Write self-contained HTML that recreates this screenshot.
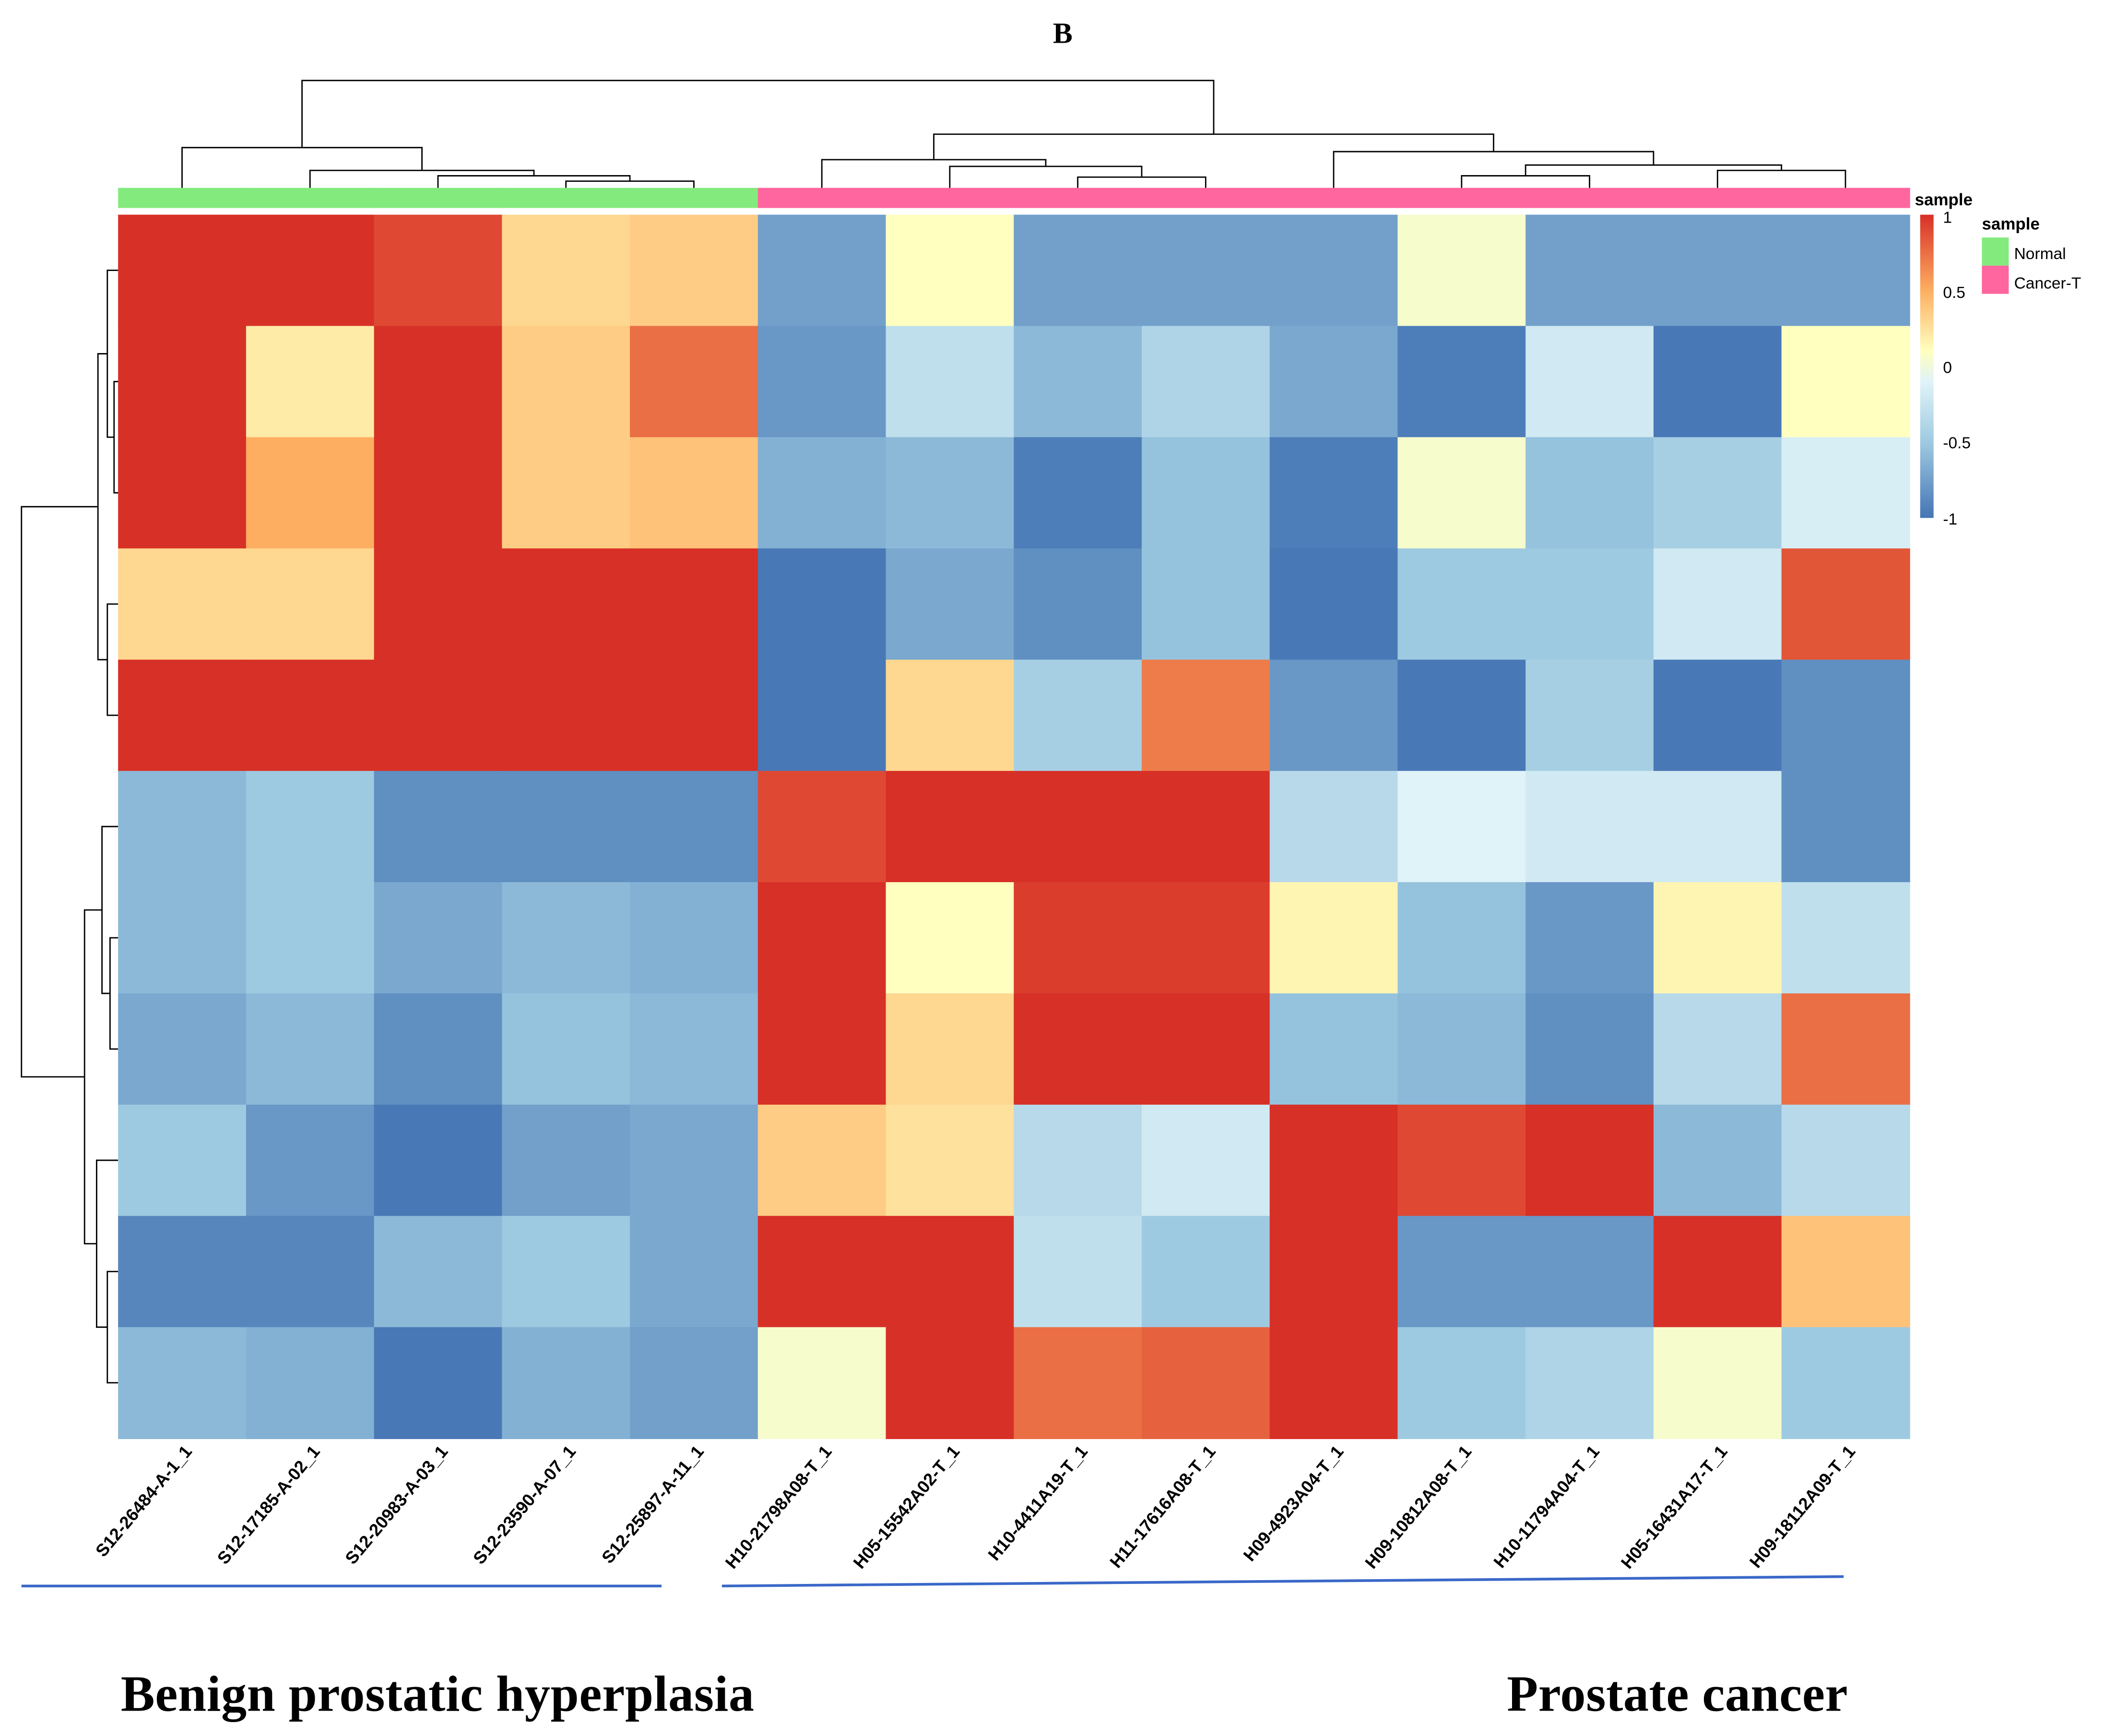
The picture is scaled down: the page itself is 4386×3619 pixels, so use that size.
<!DOCTYPE html>
<html><head><meta charset="utf-8"><style>html,body{margin:0;padding:0;background:#fff}svg{display:block}</style></head>
<body>
<svg id="chart" xmlns="http://www.w3.org/2000/svg" width="4386" height="3619" viewBox="0 0 1568 1293.8">
<defs><linearGradient id="cb" x1="0" y1="1" x2="0" y2="0">
<stop offset="0" stop-color="#4575b4"/><stop offset="0.25" stop-color="#9ecae1"/><stop offset="0.45" stop-color="#e0f3f8"/><stop offset="0.55" stop-color="#ffffbf"/><stop offset="0.75" stop-color="#fdae61"/><stop offset="1" stop-color="#d73027"/></linearGradient></defs>
<text x="792" y="32" text-anchor="middle" font-family="Liberation Serif, serif" font-weight="bold" font-size="22">B</text>
<g id="top-dend" stroke="#000" stroke-width="1" fill="none"></g>
<g id="left-dend" stroke="#000" stroke-width="1" fill="none"></g>
<g id="anno"></g>
<g id="cells"></g>
<g id="xlabels" font-family="Liberation Sans, sans-serif" font-weight="bold" font-size="13"></g>
<g font-family="Liberation Sans, sans-serif">
<text x="1427" y="153" font-size="12.5" font-weight="bold">sample</text>
<rect x="1431" y="160" width="10" height="226" fill="url(#cb)"/>
<text x="1448" y="166" font-size="12">1</text>
<text x="1448" y="222" font-size="12">0.5</text>
<text x="1448" y="278" font-size="12">0</text>
<text x="1448" y="334" font-size="12">-0.5</text>
<text x="1448" y="391" font-size="12">-1</text>
<text x="1477" y="171" font-size="12.5" font-weight="bold">sample</text>
<rect x="1477" y="177" width="20" height="21" fill="#83ea7d"/>
<text x="1501" y="193" font-size="12">Normal</text>
<rect x="1477" y="198" width="20" height="21" fill="#ff659e"/>
<text x="1501" y="215" font-size="12">Cancer-T</text>
</g>
<line x1="16" y1="1182" x2="493" y2="1182" stroke="#3a68c8" stroke-width="2"/>
<line x1="538" y1="1182" x2="1374" y2="1175" stroke="#3a68c8" stroke-width="2"/>
<text x="90" y="1275" font-family="Liberation Serif, serif" font-weight="bold" font-size="38" textLength="472">Benign prostatic hyperplasia</text>
<text x="1123" y="1275" font-family="Liberation Serif, serif" font-weight="bold" font-size="38" textLength="254">Prostate cancer</text>
</svg>
<script>
const samples = ["S12-26484-A-1_1","S12-17185-A-02_1","S12-20983-A-03_1","S12-23590-A-07_1","S12-25897-A-11_1","H10-21798A08-T_1","H05-15542A02-T_1","H10-4411A19-T_1","H11-17616A08-T_1","H09-4923A04-T_1","H09-10812A08-T_1","H10-11794A04-T_1","H05-16431A17-T_1","H09-18112A09-T_1"];
const groups = ["Normal","Normal","Normal","Normal","Normal","Cancer-T","Cancer-T","Cancer-T","Cancer-T","Cancer-T","Cancer-T","Cancer-T","Cancer-T","Cancer-T"];
const row1 = [1,1,0.9,0.3,0.35,-0.75,0.1,-0.75,-0.75,-0.75,0.05,-0.75,-0.75,-0.75];
const row2 = [1,0.2,1,0.35,0.75,-0.8,-0.3,-0.6,-0.4,-0.7,-0.95,-0.2,-0.98,0.1];
const row3 = [1,0.5,1,0.35,0.4,-0.65,-0.6,-0.95,-0.55,-0.95,0.05,-0.55,-0.45,-0.15];
const row4 = [0.3,0.3,1,1,1,-0.98,-0.7,-0.85,-0.55,-0.98,-0.5,-0.5,-0.2,0.85];
const row5 = [1,1,1,1,1,-0.98,0.3,-0.45,0.7,-0.8,-0.98,-0.45,-0.98,-0.85];
const row6 = [-0.6,-0.5,-0.85,-0.85,-0.85,0.9,1,1,1,-0.35,-0.1,-0.2,-0.2,-0.85];
const row7 = [-0.6,-0.5,-0.7,-0.6,-0.65,1,0.1,0.95,0.95,0.15,-0.55,-0.8,0.15,-0.3];
const row8 = [-0.7,-0.6,-0.85,-0.55,-0.6,1,0.3,1,1,-0.55,-0.6,-0.85,-0.35,0.75];
const row9 = [-0.5,-0.8,-0.98,-0.75,-0.7,0.35,0.25,-0.35,-0.2,1,0.9,1,-0.6,-0.35];
const row10 = [-0.9,-0.9,-0.6,-0.5,-0.7,1,1,-0.3,-0.5,1,-0.8,-0.8,1,0.4];
const row11 = [-0.6,-0.65,-0.98,-0.65,-0.75,0.05,1,0.75,0.8,1,-0.5,-0.4,0.05,-0.5];
const rows = [row1,row2,row3,row4,row5,row6,row7,row8,row9,row10,row11];
const colMerges = [[3,4,135],[2,"c0",131],[1,"c1",127],[0,"c2",110],[7,8,132],[6,"c4",124],[5,"c5",119],[10,11,131],[12,13,127],["c7","c8",123],[9,"c9",113],["c6","c10",100],["c3","c11",60]];
const rowMerges = [[1,2,85],[0,"c0",80],[3,4,80],["c1","c2",73],[6,7,82],[5,"c4",76],[9,10,80],[8,"c6",72],["c5","c7",63],["c3","c8",16]];

const NS="http://www.w3.org/2000/svg";
const X0=88,X1=1423,Y0=160,Y1=1072;
const cw=(X1-X0)/samples.length, ch=(Y1-Y0)/rows.length;
const xc=i=>X0+cw*(i+0.5), yc=j=>Y0+ch*(j+0.5);
const stops=[[-1,[69,117,180]],[-0.5,[158,202,225]],[-0.1,[224,243,248]],[0.1,[255,255,191]],[0.5,[253,174,97]],[1,[215,48,39]]];
function color(v){v=Math.max(-1,Math.min(1,v));for(let k=1;k<stops.length;k++){if(v<=stops[k][0]){const a=stops[k-1],b=stops[k],t=(v-a[0])/(b[0]-a[0]);return "rgb("+a[1].map((c,i)=>Math.round(c+(b[1][i]-c)*t)).join(",")+")";}}return "rgb(215,48,39)";}
const cells=document.getElementById('cells');
rows.forEach((r,j)=>r.forEach((v,i)=>{const e=document.createElementNS(NS,'rect');
e.setAttribute('x',X0+cw*i);e.setAttribute('y',Y0+ch*j);e.setAttribute('width',cw+0.5);e.setAttribute('height',ch+0.5);e.setAttribute('fill',color(v));


cells.appendChild(e);}));
const anno=document.getElementById('anno');
groups.forEach((g,i)=>{const e=document.createElementNS(NS,'rect');
e.setAttribute('x',X0+cw*i);e.setAttribute('y',140);e.setAttribute('width',cw+0.5);e.setAttribute('height',15);e.setAttribute('fill',g==="Normal"?"#83ea7d":"#ff659e");


anno.appendChild(e);});
const xl=document.getElementById('xlabels');
samples.forEach((s,i)=>{const t=document.createElementNS(NS,'text');const x=xc(i)+8,y=1082;
t.setAttribute('x',x);t.setAttribute('y',y);t.setAttribute('text-anchor','end');t.setAttribute('transform','rotate(-50 '+x+' '+y+')');t.textContent=s;


xl.appendChild(t);});
function dend(merges,pos,leafEdge,g,horiz){const P={},H={};
function get(n){if(typeof n==="number")return[pos(n),leafEdge];return[P[n],H[n]];}
merges.forEach((m,k)=>{const [pa,ha]=get(m[0]),[pb,hb]=get(m[1]),h=m[2];
const p=document.createElementNS(NS,'path');
const d=horiz?`M${ha},${pa}H${h}V${pb}H${hb}`:`M${pa},${ha}V${h}H${pb}V${hb}`;
p.setAttribute('d',d);


g.appendChild(p);P["c"+k]=(pa+pb)/2;H["c"+k]=h;});}
dend(colMerges,xc,140,document.getElementById('top-dend'),false);
dend(rowMerges,yc,88,document.getElementById('left-dend'),true);
</script>
</body></html>
